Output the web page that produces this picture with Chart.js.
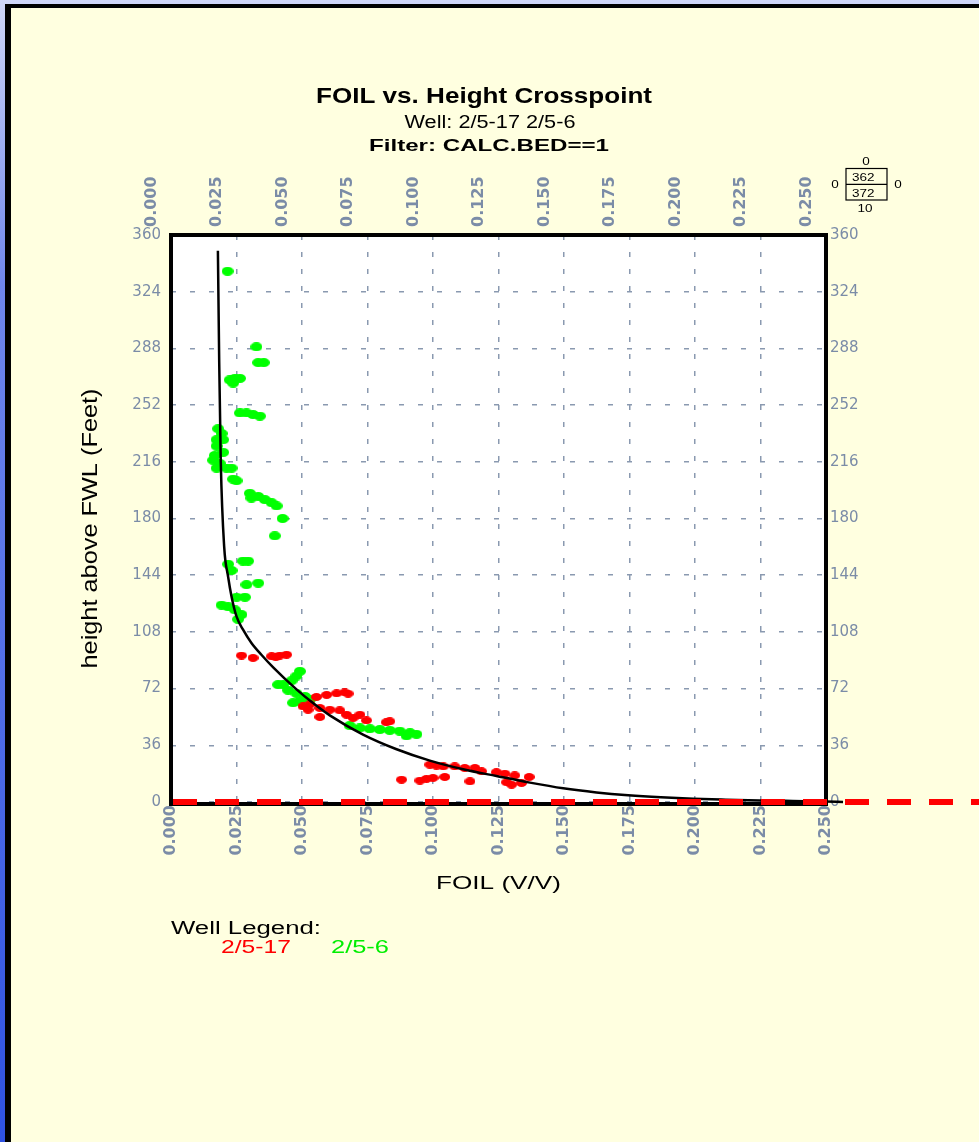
<!DOCTYPE html>
<html>
<head>
<meta charset="utf-8">
<title>FOIL vs. Height Crosspoint</title>
<script src="https://cdn.jsdelivr.net/npm/chart.js@4.4.1/dist/chart.umd.min.js"></script>
<style>
  html, body { margin: 0; padding: 0; }
  body {
    width: 979px; height: 1142px; overflow: hidden; position: relative;
    background: linear-gradient(to bottom, #cfd6f8 0%, #6f86ec 25%, #2f52e2 100%);
  }
  #sheet {
    position: absolute; left: 5px; top: 4px; right: -10px; bottom: -10px;
    background: #ffffe0; border-left: 6px solid #000; border-top: 4px solid #000;
  }
  #plot { position: absolute; left: 0; top: 0; }
</style>
</head>
<body>
<div id="sheet"></div>
<canvas id="plot" width="979" height="1142"></canvas>
<script>
// axis ticks
const foilTicks = [0, 0.025, 0.05, 0.075, 0.1, 0.125, 0.15, 0.175, 0.2, 0.225, 0.25];
const heightTicks = [0, 36, 72, 108, 144, 180, 216, 252, 288, 324, 360];

const wellNames = ['2/5-17', '2/5-6'];

// well 2/5-17 (red)
const redFoil = [
  0.0269, 0.0313, 0.0384, 0.0400, 0.0415, 0.0441,
  0.0555, 0.0594, 0.0632, 0.0663, 0.0676,
  0.0504, 0.0523, 0.0530, 0.0568, 0.0606, 0.0644, 0.0568, 0.0670, 0.0695, 0.0721, 0.0746, 0.0822, 0.0835,
  0.0880, 0.0950, 0.0975, 0.1000, 0.1045, 0.0988, 0.1013, 0.1039, 0.1083, 0.1121, 0.1160, 0.1185,
  0.1141, 0.1242, 0.1274, 0.1312, 0.1281, 0.1300, 0.1338, 0.1367
];
const redHeight = [
  93, 91.5, 92.5, 92, 93, 93.5,
  66.7, 68, 69, 69.6, 68.8,
  60.7, 58.6, 62, 59.7, 58.6, 58.2, 54, 55.4, 53.4, 55.4, 51.8, 50.6, 51.2,
  14.2, 13.6, 14.7, 15.3, 15.9, 23.7, 23.1, 22.6, 22.6, 21.6, 21.6, 19.5,
  13.1, 18.9, 18, 16.9, 12.5, 11, 12.1, 15.9
];

// well 2/5-6 (green)
const greenFoil = [
  0.0216, 0.0326, 0.0333, 0.0354, 0.0224, 0.0244, 0.0263, 0.0237,
  0.0263, 0.0288, 0.0313, 0.0339,
  0.0180, 0.0193, 0.0174, 0.0199, 0.0174, 0.0199, 0.0167, 0.0161, 0.0186, 0.0174, 0.0212, 0.0231,
  0.0237, 0.0250, 0.0301, 0.0307, 0.0333, 0.0358, 0.0384, 0.0403, 0.0426, 0.0396,
  0.0218, 0.0231, 0.0275, 0.0294, 0.0288, 0.0333, 0.0250, 0.0282,
  0.0193, 0.0218, 0.0244, 0.0269, 0.0256,
  0.0492, 0.0479, 0.0460, 0.0428, 0.0409, 0.0447, 0.0479, 0.0511, 0.0466, 0.0492, 0.0530,
  0.0682, 0.0721, 0.0759, 0.0797, 0.0835, 0.0873, 0.0912, 0.0937, 0.0899
];
const greenHeight = [
  337, 289, 279, 279, 268, 269, 269, 266,
  247, 247, 246, 245,
  237, 234, 230, 230, 226, 222, 220, 217, 215, 212, 212, 212,
  205, 204, 196, 193, 194, 192, 190, 188, 180, 169,
  151, 147, 153, 153, 138, 139, 130, 130,
  125, 124, 122, 119, 116,
  83, 80, 77, 74.5, 74.5, 71, 69, 67, 63, 64, 65,
  48.5, 47, 46.5, 46, 45.5, 45, 44, 43, 42
];

// fitted FOIL-height function
const fitFoil = [
  0.0179, 0.0184, 0.0190, 0.0203, 0.0218, 0.0231, 0.0250, 0.0275, 0.0307, 0.0345,
  0.0390, 0.0479, 0.0542, 0.0606, 0.0733, 0.0861, 0.0988, 0.1115, 0.1242, 0.1370,
  0.1497, 0.1624, 0.1745, 0.1870, 0.1993, 0.2118, 0.2247, 0.2373, 0.2495, 0.2565
];
const fitHeight = [
  350, 279, 216, 162, 143, 130.5, 117.8, 109.4, 101, 93.5,
  85.5, 71.5, 62.8, 55, 42.8, 33.5, 26.3, 20.8, 16.5, 12.3,
  8.7, 6.1, 4.3, 3.0, 2.1, 1.5, 1.0, 0.65, 0.35, 0
];

const toPoints = (xs, ys) => xs.map((x, i) => ({ x, y: ys[i] }));

const tickColor = '#7b8ca7';
const gridColor = '#8a99b0';

// soft oval marker like the plotting package uses
function makeBlob(color, w, h) {
  const c = document.createElement('canvas');
  c.width = w; c.height = h;
  const g = c.getContext('2d');
  g.fillStyle = color;
  g.beginPath();
  g.ellipse(w / 2, h / 2, w / 2, h / 2, 0, 0, Math.PI * 2);
  g.fill();
  return c;
}

// stretched text helper (the crossplot fonts are drawn wide)
function label(ctx, text, x, y, opts) {
  ctx.save();
  ctx.font = opts.font;
  ctx.fillStyle = opts.color || '#000';
  ctx.textAlign = opts.align || 'left';
  ctx.textBaseline = 'alphabetic';
  const natural = ctx.measureText(text).width;
  const sx = opts.width ? opts.width / natural : (opts.sx || 1);
  ctx.translate(x, y);
  if (opts.rotate) ctx.rotate(opts.rotate);
  ctx.scale(sx, opts.sy || 1);
  ctx.fillText(text, 0, 0);
  ctx.restore();
}

const sheetPlugin = {
  id: 'sheet',
  beforeDraw(chart) {
    const { ctx, chartArea: a } = chart;
    ctx.save();
    ctx.fillStyle = '#ffffff';
    ctx.fillRect(a.left, a.top, a.right - a.left, a.bottom - a.top);
    ctx.restore();
  },
  afterDatasetsDraw(chart) {
    const { ctx, chartArea: a, scales } = chart;
    ctx.save();
    // plot frame
    ctx.strokeStyle = '#000';
    ctx.lineWidth = 4;
    ctx.strokeRect(a.left, a.top, a.right - a.left, a.bottom - a.top + 2);
    // free water level marker
    const y0 = scales.y.getPixelForValue(0);
    ctx.strokeStyle = '#ff0000';
    ctx.lineWidth = 6;
    ctx.setLineDash([24, 18]);
    ctx.beginPath();
    ctx.moveTo(a.left + 2, y0);
    ctx.lineTo(chart.width, y0);
    ctx.stroke();
    ctx.restore();
  },
  afterDraw(chart) {
    const { ctx, chartArea: a } = chart;
    const midY = (a.top + a.bottom) / 2;

    label(ctx, 'FOIL vs. Height Crosspoint', 484, 103, { font: 'bold 22px "Liberation Sans"', align: 'center', width: 336 });
    label(ctx, 'Well: 2/5-17 2/5-6', 490, 128, { font: '18px "Liberation Sans"', align: 'center', width: 171 });
    label(ctx, 'Filter: CALC.BED==1', 489, 151, { font: 'bold 17px "Liberation Sans"', align: 'center', width: 240 });

    label(ctx, 'FOIL (V/V)', (a.left + a.right) / 2, 889, { font: '19px "Liberation Sans"', align: 'center', width: 125 });
    label(ctx, 'height above FWL (Feet)', 97, midY + 10, { font: '17px "Liberation Sans"', align: 'center', width: 280, sy: 1.3, rotate: -Math.PI / 2 });

    // well legend
    label(ctx, 'Well Legend:', 171, 934, { font: '18px "Liberation Sans"', width: 150 });
    label(ctx, wellNames[0], 221, 953, { font: '18px "Liberation Sans"', color: '#ff0000', width: 70 });
    label(ctx, wellNames[1], 331, 953, { font: '18px "Liberation Sans"', color: '#00ee00', width: 58 });

    // out-of-range counter box
    ctx.save();
    ctx.strokeStyle = '#000';
    ctx.lineWidth = 1.2;
    ctx.strokeRect(846, 168.5, 41, 31.5);
    ctx.beginPath();
    ctx.moveTo(846, 184.3);
    ctx.lineTo(887, 184.3);
    ctx.stroke();
    ctx.restore();
    const small = '10px "Liberation Sans"';
    label(ctx, '0', 866, 165, { font: small, align: 'center', sx: 1.35 });
    label(ctx, '362', 852, 181, { font: small, sx: 1.35 });
    label(ctx, '372', 852, 197, { font: small, sx: 1.35 });
    label(ctx, '0', 835, 188, { font: small, align: 'center', sx: 1.35 });
    label(ctx, '0', 898, 188, { font: small, align: 'center', sx: 1.35 });
    label(ctx, '10', 865, 212, { font: small, align: 'center', sx: 1.35 });
  }
};

const foilAxis = (position) => ({
  type: 'linear',
  position,
  min: 0,
  max: 0.25,
  afterBuildTicks: s => { s.ticks = foilTicks.map(v => ({ value: v })); },
  afterFit: s => { s.height = 70; },
  ticks: {
    autoSkip: false,
    minRotation: 90,
    maxRotation: 90,
    padding: position === 'top' ? 8 : 3,
    color: tickColor,
    font: { family: 'DejaVu Sans', size: 16, weight: 'bold' },
    callback: v => Number(v).toFixed(3)
  },
  grid: position === 'bottom'
    ? { color: gridColor, lineWidth: 1.5, drawTicks: false }
    : { display: false, drawTicks: false },
  border: { display: false, dash: [5, 12] }
});

const heightAxis = (position) => ({
  type: 'linear',
  position,
  min: 0,
  max: 360,
  afterBuildTicks: s => { s.ticks = heightTicks.map(v => ({ value: v })); },
  afterFit: s => { s.width = 60; },
  ticks: {
    autoSkip: false,
    padding: position === 'left' ? 10 : 4,
    color: tickColor,
    font: { family: 'DejaVu Sans', size: 15 }
  },
  grid: position === 'left'
    ? { color: gridColor, lineWidth: 1.5, drawTicks: false }
    : { display: false, drawTicks: false },
  border: { display: false, dash: [5, 14] }
});

new Chart(document.getElementById('plot'), {
  type: 'scatter',
  data: {
    datasets: [
      {
        label: 'fit',
        data: toPoints(fitFoil, fitHeight),
        showLine: true,
        borderColor: '#000',
        borderWidth: 2.5,
        pointRadius: 0,
        cubicInterpolationMode: 'monotone',
        clip: false
      },
      {
        label: wellNames[0],
        data: toPoints(redFoil, redHeight),
        pointStyle: makeBlob('#ff0000', 11, 8),
        pointRadius: 5
      },
      {
        label: wellNames[1],
        data: toPoints(greenFoil, greenHeight),
        pointStyle: makeBlob('#00ff00', 12, 9),
        pointRadius: 5
      }
    ]
  },
  options: {
    responsive: false,
    animation: false,
    devicePixelRatio: 1,
    layout: { padding: { left: 111, right: 93, top: 165, bottom: 270 } },
    plugins: {
      legend: { display: false },
      tooltip: { enabled: false }
    },
    scales: {
      x: foilAxis('bottom'),
      x2: foilAxis('top'),
      y: heightAxis('left'),
      y2: heightAxis('right')
    }
  },
  plugins: [sheetPlugin]
});
</script>
</body>
</html>
